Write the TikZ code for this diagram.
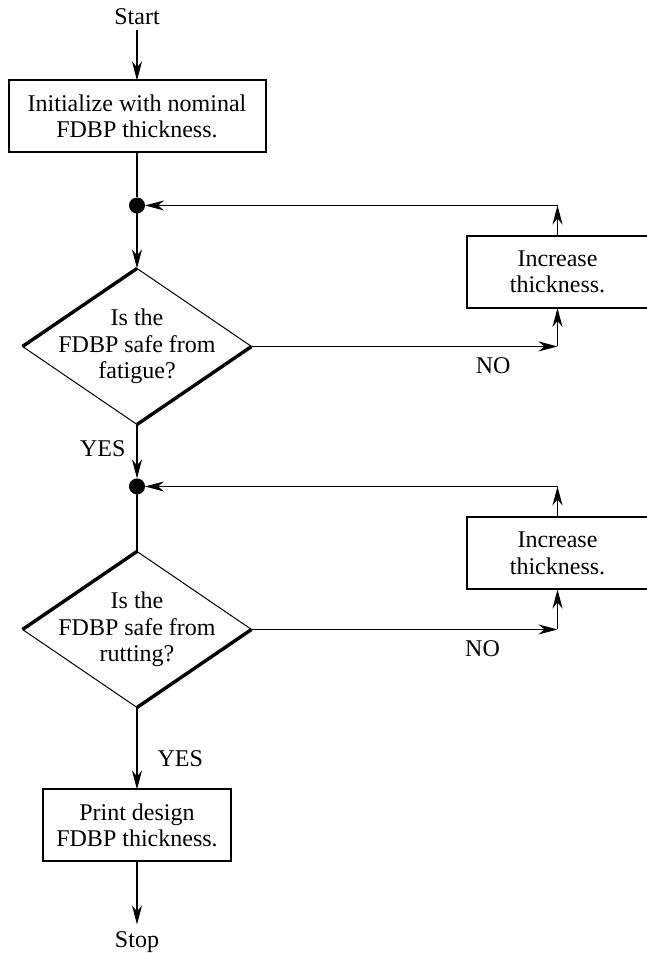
\documentclass[tikz,border=0pt]{standalone}
\usepackage{fontspec}
\setmainfont{Liberation Serif}
\usepackage{tikz}
\usetikzlibrary{arrows.meta, positioning, shapes.geometric}

\begin{document}
\begin{tikzpicture}[node distance=10pt,
    every node/.style={font=\fontsize{12pt}{13.25pt}\selectfont},
    term/.style={inner sep=2.5pt},
    process/.style={draw, line width=1pt, outer sep=0pt, align=center, minimum height=36pt},
    decision/.style={diamond, inner sep=0pt, outer sep=0pt, minimum width=114.5pt, minimum height=78pt},
    joint/.style={circle, fill, inner sep=0pt, outer sep=0pt, minimum size=8pt},
    line/.style={line width=0.9pt},
    flow/.style={line, -{Stealth[length=9.5pt, width=5pt, inset=3pt]}},
    heavy/.style={line width=1.7pt},
    light/.style={line width=0.5pt}]
    \useasboundingbox (0,0) rectangle (323.5pt,-476.5pt);

    % main column
    \node[term] (start) at (68.5pt,-8.5pt) {Start};
    \node[process, minimum width=128.5pt, below=25pt of start] (init) {Initialize with nominal\\FDBP thickness.};
    \node[joint, below=22.5pt of init] (dot1) {};
    \node[decision, below=27.5pt of dot1, label={[align=center]center:{Is the\\FDBP safe from\\fatigue?}}] (fat) {};
    \node[joint, below=27pt of fat] (dot2) {};
    \node[decision, below=28.5pt of dot2, label={[align=center]center:{Is the\\FDBP safe from\\rutting?}}] (rut) {};
    \node[process, minimum width=94pt, below=41pt of rut] (print) {Print design\\FDBP thickness.};
    \node[term, inner ysep=3.5pt, below=31.5pt of print] (stop) {Stop};

    % side boxes for the two checks
    \node[process, minimum width=91pt, right=107.5pt of fat, yshift=37.25pt] (inc1) {Increase\\thickness.};
    \node[process, minimum width=91pt, right=107.5pt of rut, yshift=38pt] (inc2) {Increase\\thickness.};
    \coordinate (no1) at (fat.east -| inc1);
    \coordinate (back1) at (dot1 -| inc1);
    \coordinate (no2) at (rut.east -| inc2);
    \coordinate (back2) at (dot2 -| inc2);

    % diamond outlines, heavy on two sides
    \draw[heavy] (fat.west) -- (fat.north);
    \draw[light] (fat.north) -- (fat.east);
    \draw[heavy] (fat.east) -- (fat.south);
    \draw[light] (fat.south) -- (fat.west);
    \draw[heavy] (rut.west) -- (rut.north);
    \draw[light] (rut.north) -- (rut.east);
    \draw[heavy] (rut.east) -- (rut.south);
    \draw[light] (rut.south) -- (rut.west);

    \draw[flow] (start) -- (init);
    \draw[line] (init) -- (dot1);
    \draw[flow] (dot1) -- (fat);
    \draw[flow] (fat) -- node[left=2pt, pos=0.44] {YES} (dot2);
    \draw[line] (dot2) -- (rut);
    \draw[flow] (rut) -- node[right=6.5pt, pos=0.63] {YES} (print);
    \draw[flow] (print) -- (stop);

    % loops back to the joints
    \draw[flow] (fat.east) -- node[below=2pt, pos=0.79] {NO} (no1);
    \draw[flow] (no1) -- (inc1);
    \draw[flow] (inc1) -- (back1);
    \draw[flow] (back1) -- (dot1);
    \draw[flow] (rut.east) -- node[below=2pt, pos=0.755] {NO} (no2);
    \draw[flow] (no2) -- (inc2);
    \draw[flow] (inc2) -- (back2);
    \draw[flow] (back2) -- (dot2);
\end{tikzpicture}
\end{document}
